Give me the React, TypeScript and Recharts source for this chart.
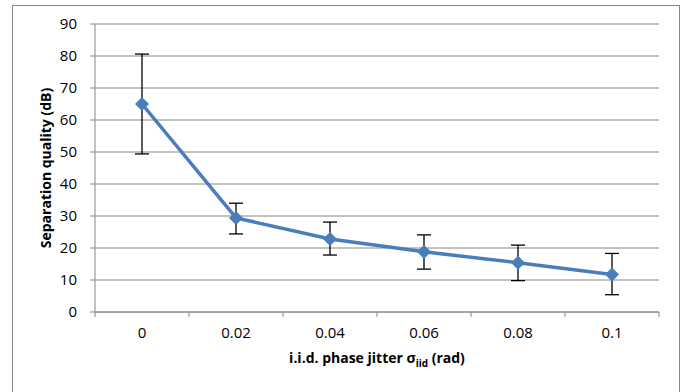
import { LineChart, Line, XAxis, YAxis, CartesianGrid, ErrorBar } from 'recharts'

// ── Data ──────────────────────────────────────────────────────────────────────
const jitter = ['0', '0.02', '0.04', '0.06', '0.08', '0.1']
const quality = [65, 29.4, 22.8, 18.8, 15.4, 11.7]
const errLow = [15.6, 5.0, 5.0, 5.4, 5.6, 6.3]
const errHigh = [15.6, 4.6, 5.3, 5.3, 5.5, 6.6]
const yTicks = [0, 10, 20, 30, 40, 50, 60, 70, 80, 90]

const data = jitter.map((j, i) => ({
  name: j,
  value: quality[i],
  err: [errLow[i], errHigh[i]],
}))

// ── Layout ────────────────────────────────────────────────────────────────────
const W = 682
const H = 392
const Y_W = 40
const X_H = 30
const M = { top: 24, right: 23, bottom: 50, left: 55 }
const PLOT_L = M.left + Y_W
const PLOT_R = W - M.right
const PLOT_B = H - M.bottom - X_H
const HALF_BAND = (PLOT_R - PLOT_L) / jitter.length / 2
const GREY = '#868686'
const BLUE = '#4a7ebb'
const FONT = '"Open Sans", sans-serif'

function XTick({ x, payload, index }: any) {
  return (
    <g>
      <line x1={x - HALF_BAND} x2={x - HALF_BAND} y1={PLOT_B} y2={PLOT_B + 5} stroke={GREY} />
      {index === jitter.length - 1 && (
        <line x1={x + HALF_BAND} x2={x + HALF_BAND} y1={PLOT_B} y2={PLOT_B + 5} stroke={GREY} />
      )}
      <text x={x} y={PLOT_B + 26} textAnchor="middle" fontSize={15} fill="#000" fontFamily={FONT}>
        {payload.value}
      </text>
    </g>
  )
}

function Diamond({ cx, cy }: any) {
  if (cx == null || cy == null) return null
  const r = 7
  return (
    <polygon
      points={`${cx},${cy - r} ${cx + r},${cy} ${cx},${cy + r} ${cx - r},${cy}`}
      fill={BLUE}
    />
  )
}

function XLabel({ viewBox }: any) {
  const cx = viewBox.x + viewBox.width / 2
  return (
    <text x={cx} y={PLOT_B + 51} textAnchor="middle" fontSize={14} fontWeight="bold" fontFamily={FONT} fill="#000">
      i.i.d. phase jitter σ
      <tspan fontSize={10} dy={4}>iid</tspan>
      <tspan dy={-4}> (rad)</tspan>
    </text>
  )
}

export default function App() {
  return (
    <div style={{ position: 'absolute', left: 0, top: 0, width: W, height: H, background: '#fff', overflow: 'hidden' }}>
      <div style={{ position: 'absolute', left: 12, top: 5, width: 666, height: 420, border: `1px solid ${GREY}` }} />
      <div style={{ position: 'absolute', left: 0, top: 0 }}>
        <LineChart width={W} height={H} data={data} margin={M}>
          <CartesianGrid vertical={false} stroke={GREY} strokeWidth={1} />
          <XAxis
            dataKey="name"
            scale="band"
            axisLine={{ stroke: GREY }}
            tickLine={false}
            tick={<XTick />}
            interval={0}
            height={X_H}
            label={<XLabel />}
          />
          <YAxis
            domain={[0, 90]}
            ticks={yTicks}
            width={Y_W}
            axisLine={{ stroke: GREY }}
            tickLine={{ stroke: GREY }}
            tickSize={5}
            tickMargin={13}
            tick={{ fontSize: 15, fill: '#000', fontFamily: FONT }}
            label={{
              value: 'Separation quality (dB)',
              angle: -90,
              position: 'insideLeft',
              offset: 0,
              dx: -9,
              style: { fontSize: 14, fontWeight: 'bold', fill: '#000', fontFamily: FONT, textAnchor: 'middle' },
            }}
          />
          <Line
            dataKey="value"
            stroke={BLUE}
            strokeWidth={3.5}
            dot={<Diamond />}
            activeDot={false}
            isAnimationActive={false}
          >
            <ErrorBar dataKey="err" width={7} stroke="#000" strokeWidth={1.3} direction="y" />
          </Line>
        </LineChart>
      </div>
    </div>
  )
}
